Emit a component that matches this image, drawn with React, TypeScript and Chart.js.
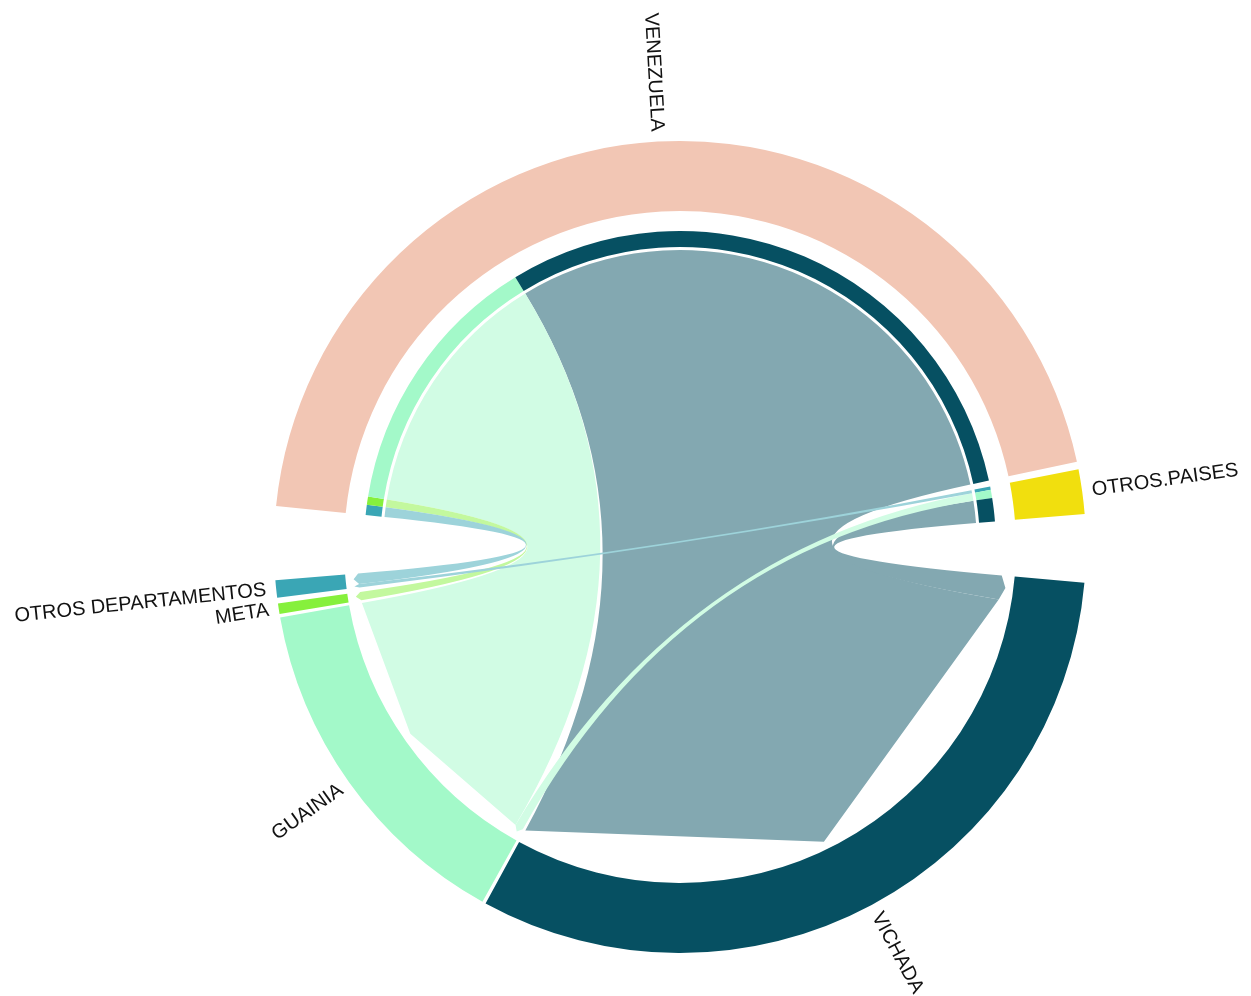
import React, { useEffect, useRef } from "react";
import { Chart, registerables } from "chart.js";

Chart.register(...registerables);

// ---- Data ----
const sectorNames = ["VENEZUELA", "OTROS.PAISES", "VICHADA", "GUAINIA", "META", "OTROS DEPARTAMENTOS"];
const sectorColors = ["#F2C6B4", "#F1DF0E", "#065062", "#A3F9C9", "#86F03C", "#3AA6B5"];
const originNames = ["VENEZUELA", "OTROS.PAISES"];
const destinationNames = ["VICHADA", "GUAINIA", "META", "OTROS DEPARTAMENTOS"];
// flows from each origin to destinations (same order as destinationNames)
const flowsFromVenezuela = [1095, 495, 15, 19];
const flowsFromOtrosPaises = [43, 15, 0, 6];

// ---- Layout constants ----
const gapAfterDeg = [1.1, 9.7, 0.5, 0.5, 0.8, 10.5];
const TRANSPARENT = "rgba(0,0,0,0)";

const flows = [flowsFromVenezuela, flowsFromOtrosPaises];
const sum = (a: number[]) => a.reduce((s, v) => s + v, 0);

const sectorTotals = sectorNames.map((name) => {
  const oi = originNames.indexOf(name);
  if (oi >= 0) return sum(flows[oi]);
  const di = destinationNames.indexOf(name);
  return sum(flows.map((row) => row[di]));
});
const dataTotal = sum(sectorTotals);
const unitPerDeg = dataTotal / (360 - sum(gapAfterDeg));
const gapValues = gapAfterDeg.map((g) => g * unitPerDeg);

function colorOf(name: string) {
  return sectorColors[sectorNames.indexOf(name)];
}
function lighten(hex: string, f: number) {
  const n = parseInt(hex.slice(1), 16);
  const r = (n >> 16) & 255, g = (n >> 8) & 255, b = n & 255;
  const m = (c: number) => Math.round(c + (255 - c) * f);
  return `rgb(${m(r)},${m(g)},${m(b)})`;
}

// outer ring
const outerData: number[] = [];
const outerColors: string[] = [];
const outerIndex: number[] = [];
sectorNames.forEach((name, i) => {
  outerIndex.push(outerData.length);
  outerData.push(sectorTotals[i]);
  outerColors.push(sectorColors[i]);
  outerData.push(gapValues[i]);
  outerColors.push(TRANSPARENT);
});

// inner (target proportion) track
const innerData: number[] = [];
const innerColors: string[] = [];
const innerIndex: Record<string, number> = {};
const destReversed = destinationNames.map((_, i) => destinationNames.length - 1 - i);
sectorNames.forEach((name, i) => {
  const oi = originNames.indexOf(name);
  if (oi >= 0) {
    destReversed.forEach((di) => {
      innerIndex[`${oi}-${di}`] = innerData.length;
      innerData.push(flows[oi][di]);
      innerColors.push(colorOf(destinationNames[di]));
    });
  } else {
    innerData.push(sectorTotals[i]);
    innerColors.push(TRANSPARENT);
  }
  innerData.push(gapValues[i]);
  innerColors.push(TRANSPARENT);
});

const chordPlugin = {
  id: "chords",
  afterDatasetsDraw(chart: any) {
    const ctx = chart.ctx as CanvasRenderingContext2D;
    const outerMeta = chart.getDatasetMeta(0);
    const innerMeta = chart.getDatasetMeta(2);
    const props = (el: any) =>
      el.getProps(["startAngle", "endAngle", "innerRadius", "outerRadius", "x", "y"], true);
    const first = props(outerMeta.data[0]);
    const cx = first.x, cy = first.y;
    const rOuterInner = first.innerRadius;
    const innerFirst = props(innerMeta.data[0]);
    const rs = innerFirst.innerRadius - 3;
    const rt = rOuterInner - 8;
    const rc = rt - 5;

    // destination subranges: origins in reverse order
    const destRanges: Record<string, [number, number]> = {};
    destinationNames.forEach((dname, di) => {
      const si = sectorNames.indexOf(dname);
      const el = props(outerMeta.data[outerIndex[si]]);
      const span = el.endAngle - el.startAngle;
      const tot = sectorTotals[si];
      let acc = el.startAngle;
      for (let oi = originNames.length - 1; oi >= 0; oi--) {
        const w = (flows[oi][di] / tot) * span;
        destRanges[`${oi}-${di}`] = [acc, acc + w];
        acc += w;
      }
    });

    const P = (a: number, r: number): [number, number] => [cx + r * Math.cos(a), cy + r * Math.sin(a)];
    ctx.save();
    originNames.forEach((_, oi) => {
      destinationNames.forEach((dname, di) => {
        if (flows[oi][di] <= 0) return;
        const key = `${oi}-${di}`;
        const src = props(innerMeta.data[innerIndex[key]]);
        const a1 = src.startAngle, a2 = src.endAngle;
        const [b1, b2] = destRanges[key];
        const s1 = P(a1, rs);
        const d1 = P(b1, rc);
        const tip = P((b1 + b2) / 2, rt);
        const d2 = P(b2, rc);
        ctx.beginPath();
        ctx.moveTo(s1[0], s1[1]);
        ctx.arc(cx, cy, rs, a1, a2, false);
        ctx.quadraticCurveTo(cx, cy, d1[0], d1[1]);
        ctx.lineTo(tip[0], tip[1]);
        ctx.lineTo(d2[0], d2[1]);
        ctx.quadraticCurveTo(cx, cy, s1[0], s1[1]);
        ctx.closePath();
        ctx.fillStyle = lighten(colorOf(dname), 0.5);
        ctx.fill();
      });
    });
    ctx.restore();
  },
  afterDraw(chart: any) {
    const ctx = chart.ctx as CanvasRenderingContext2D;
    const outerMeta = chart.getDatasetMeta(0);
    ctx.save();
    ctx.fillStyle = "#111";
    ctx.font = '20px "Liberation Sans", Arial, sans-serif';
    ctx.textBaseline = "middle";
    sectorNames.forEach((name, si) => {
      const el = outerMeta.data[outerIndex[si]].getProps(
        ["startAngle", "endAngle", "outerRadius", "x", "y"],
        true
      );
      const mid = (el.startAngle + el.endAngle) / 2;
      const r = el.outerRadius + 10;
      const x = el.x + r * Math.cos(mid);
      const y = el.y + r * Math.sin(mid);
      ctx.save();
      ctx.translate(x, y);
      if (Math.cos(mid) >= 0) {
        ctx.rotate(mid);
        ctx.textAlign = "left";
      } else {
        ctx.rotate(mid + Math.PI);
        ctx.textAlign = "right";
      }
      ctx.fillText(name, 0, 0);
      ctx.restore();
    });
    ctx.restore();
  },
};

export default function App() {
  const canvasRef = useRef<HTMLCanvasElement | null>(null);
  useEffect(() => {
    if (!canvasRef.current) return;
    const chart = new Chart(canvasRef.current, {
      type: "doughnut",
      data: {
        labels: outerData.map((_, i) => String(i)),
        datasets: [
          {
            data: outerData,
            backgroundColor: outerColors,
            borderWidth: 0,
            hoverOffset: 0,
            offset: 0,
            weight: 70,
          } as any,
          {
            data: [dataTotal + sum(gapValues)],
            backgroundColor: [TRANSPARENT],
            borderWidth: 0,
            hoverOffset: 0,
            offset: 0,
            weight: 20,
          } as any,
          {
            data: innerData,
            backgroundColor: innerColors,
            borderWidth: 0,
            hoverOffset: 0,
            offset: 0,
            weight: 16,
          } as any,
        ],
      },
      options: {
        responsive: false,
        animation: false,
        events: [],
        rotation: 275.8,
        circumference: 360,
        cutout: 300,
        layout: { padding: { left: 274, right: 165, top: 141, bottom: 43 } },
        plugins: { legend: { display: false }, tooltip: { enabled: false } },
      } as any,
      plugins: [chordPlugin],
    });
    return () => chart.destroy();
  }, []);
  return (
    <div style={{ position: "absolute", left: 0, top: 0, width: 1251, height: 996, background: "#fff" }}>
      <canvas ref={canvasRef} width={1251} height={996} />
    </div>
  );
}
